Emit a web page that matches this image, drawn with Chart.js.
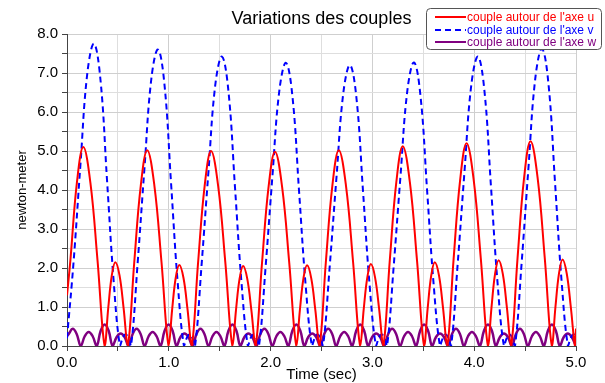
<!DOCTYPE html>
<html>
<head>
<meta charset="utf-8">
<script src="https://cdn.jsdelivr.net/npm/chart.js@4.4.1/dist/chart.umd.min.js"></script>
<style>
  html, body { margin: 0; padding: 0; background: #fff; }
  canvas { display: block; }
</style>
</head>
<body>
<canvas id="couplesChart" width="605" height="383"></canvas>
<script>
const chartTitle = "Variations des couples";
const xAxisTitle = "Time (sec)";
const yAxisTitle = "newton-meter";
const seriesLabels = ["couple autour de l'axe u", "couple autour de l'axe v", "couple autour de l'axe w"];

// couple u (red)
const redTime = [0, 0.033, 0.097, 0.16, 0.23, 0.30, 0.37, 0.405, 0.44, 0.475, 0.516, 0.556, 0.597,
  0.661, 0.725, 0.788, 0.858, 0.928, 0.998, 1.033, 1.068, 1.103, 1.144, 1.184, 1.225,
  1.288, 1.352, 1.415, 1.485, 1.555, 1.625, 1.66, 1.695, 1.73, 1.771, 1.811, 1.852,
  1.916, 1.98, 2.043, 2.113, 2.183, 2.253, 2.288, 2.323, 2.358, 2.399, 2.439, 2.48,
  2.543, 2.607, 2.67, 2.74, 2.81, 2.88, 2.915, 2.95, 2.985, 3.026, 3.066, 3.107,
  3.171, 3.235, 3.298, 3.368, 3.438, 3.508, 3.543, 3.578, 3.613, 3.654, 3.694, 3.735,
  3.798, 3.862, 3.925, 3.995, 4.065, 4.135, 4.17, 4.205, 4.24, 4.281, 4.321, 4.362,
  4.426, 4.49, 4.553, 4.623, 4.693, 4.763, 4.798, 4.833, 4.868, 4.909, 4.949, 4.99, 5.0];
const redValues = [1.3, 2.19, 4.18, 5.1, 4.18, 2.19, 0, 0.97, 1.81, 2.15, 1.81, 0.97, 0,
  2.16, 4.12, 5.02, 4.12, 2.16, 0, 0.94, 1.75, 2.08, 1.75, 0.94, 0,
  2.15, 4.1, 5.0, 4.1, 2.15, 0, 0.92, 1.72, 2.05, 1.72, 0.92, 0,
  2.14, 4.08, 4.98, 4.08, 2.14, 0, 0.93, 1.74, 2.07, 1.74, 0.93, 0,
  2.16, 4.12, 5.02, 4.12, 2.16, 0, 0.95, 1.76, 2.1, 1.76, 0.95, 0,
  2.2, 4.2, 5.12, 4.2, 2.2, 0, 0.97, 1.81, 2.15, 1.81, 0.97, 0,
  2.24, 4.26, 5.2, 4.26, 2.24, 0, 0.99, 1.85, 2.2, 1.85, 0.99, 0,
  2.26, 4.31, 5.25, 4.31, 2.26, 0, 1.0, 1.86, 2.22, 1.86, 1.0, 0, 0.45];

// couple v (blue, dashed)
const blueTime = [0, 0.065, 0.132, 0.199, 0.265, 0.329, 0.393, 0.457, 0.52, 0.55, 0.575, 0.6, 0.629,
  0.694, 0.761, 0.828, 0.894, 0.958, 1.022, 1.086, 1.149, 1.179, 1.204, 1.229, 1.258,
  1.322, 1.389, 1.456, 1.522, 1.586, 1.65, 1.714, 1.777, 1.807, 1.832, 1.857, 1.886,
  1.951, 2.018, 2.085, 2.151, 2.215, 2.279, 2.343, 2.406, 2.436, 2.461, 2.486, 2.515,
  2.58, 2.647, 2.714, 2.78, 2.844, 2.908, 2.972, 3.035, 3.065, 3.09, 3.115, 3.144,
  3.209, 3.276, 3.343, 3.409, 3.473, 3.537, 3.601, 3.664, 3.694, 3.719, 3.744, 3.773,
  3.837, 3.904, 3.971, 4.037, 4.101, 4.165, 4.229, 4.292, 4.322, 4.347, 4.372, 4.401,
  4.466, 4.533, 4.6, 4.666, 4.73, 4.794, 4.858, 4.921, 4.951, 4.976, 5.0];
const blueValues = [0.2, 2.17, 4.65, 6.98, 7.75, 6.82, 4.26, 1.71, 0, 0.22, 0.3, 0.22, 0,
  2.13, 4.56, 6.84, 7.6, 6.69, 4.18, 1.67, 0, 0.22, 0.3, 0.22, 0,
  2.08, 4.45, 6.68, 7.42, 6.53, 4.08, 1.63, 0, 0.22, 0.3, 0.22, 0,
  2.03, 4.36, 6.53, 7.26, 6.39, 3.99, 1.6, 0, 0.22, 0.3, 0.22, 0,
  2.02, 4.32, 6.48, 7.2, 6.34, 3.96, 1.58, 0, 0.22, 0.3, 0.22, 0,
  2.04, 4.36, 6.54, 7.27, 6.4, 4.0, 1.6, 0, 0.22, 0.3, 0.22, 0,
  2.08, 4.45, 6.68, 7.42, 6.53, 4.08, 1.63, 0, 0.22, 0.3, 0.22, 0,
  2.13, 4.57, 6.86, 7.62, 6.71, 4.19, 1.68, 0, 0.22, 0.3, 0.2];

// couple w (purple)
const purpleTime = [0, 0.017, 0.056, 0.095, 0.135,
  0.174, 0.213, 0.252, 0.292, 0.331, 0.37, 0.409, 0.448,
  0.488, 0.527, 0.566, 0.605, 0.645, 0.684, 0.723, 0.762,
  0.802, 0.841, 0.88, 0.919, 0.959, 0.998, 1.037, 1.076,
  1.115, 1.154, 1.193, 1.233, 1.272, 1.311, 1.35, 1.39,
  1.429, 1.468, 1.507, 1.546, 1.586, 1.625, 1.664, 1.703,
  1.743, 1.782, 1.821, 1.86, 1.9, 1.939, 1.978, 2.017,
  2.057, 2.096, 2.135, 2.174, 2.214, 2.253, 2.292, 2.331,
  2.37, 2.409, 2.448, 2.488, 2.527, 2.566, 2.605, 2.644,
  2.684, 2.723, 2.762, 2.801, 2.841, 2.88, 2.919, 2.958,
  2.998, 3.037, 3.076, 3.115, 3.155, 3.194, 3.233, 3.272,
  3.311, 3.35, 3.389, 3.429, 3.469, 3.508, 3.547, 3.586,
  3.625, 3.664, 3.703, 3.743, 3.782, 3.821, 3.86, 3.899,
  3.939, 3.978, 4.017, 4.056, 4.096, 4.135, 4.174, 4.213,
  4.253, 4.292, 4.331, 4.37, 4.41, 4.449, 4.488, 4.527,
  4.567, 4.606, 4.645, 4.684, 4.724, 4.763, 4.802, 4.841,
  4.88, 4.919, 4.958, 4.998];
const purpleValues = [0.25, 0.31, 0.44, 0.31, 0,
  0.25, 0.36, 0.25, 0, 0.39, 0.55, 0.39, 0,
  0.23, 0.32, 0.23, 0, 0.31, 0.44, 0.31, 0,
  0.25, 0.36, 0.25, 0, 0.39, 0.55, 0.39, 0,
  0.23, 0.32, 0.23, 0, 0.31, 0.44, 0.31, 0,
  0.25, 0.36, 0.25, 0, 0.39, 0.55, 0.39, 0,
  0.23, 0.32, 0.23, 0, 0.31, 0.44, 0.31, 0,
  0.25, 0.36, 0.25, 0, 0.39, 0.55, 0.39, 0,
  0.23, 0.32, 0.23, 0, 0.31, 0.44, 0.31, 0,
  0.25, 0.36, 0.25, 0, 0.39, 0.55, 0.39, 0,
  0.23, 0.32, 0.23, 0, 0.31, 0.44, 0.31, 0,
  0.25, 0.36, 0.25, 0, 0.39, 0.55, 0.39, 0,
  0.23, 0.32, 0.23, 0, 0.31, 0.44, 0.31, 0,
  0.25, 0.36, 0.25, 0, 0.39, 0.55, 0.39, 0,
  0.23, 0.32, 0.23, 0, 0.31, 0.44, 0.31, 0,
  0.25, 0.36, 0.25, 0, 0.39, 0.55, 0.39, 0,
  0.23, 0.32, 0.23, 0];

const colors = ["#ff0000", "#0000ff", "#800080"];
const FONT = "'Liberation Sans', Arial, sans-serif";

function toPoints(times, values) {
  return times.map((t, i) => ({ x: t, y: values[i] }));
}

function tickLabel(v) {
  return Number.isInteger(v) ? v.toFixed(1) : "";
}

// title, axis titles and the boxed legend drawn straight on the canvas
const decorPlugin = {
  id: "decor",
  beforeDraw(chart) {
    const c = chart.ctx;
    c.save();
    c.fillStyle = "#fff";
    c.fillRect(0, 0, chart.width, chart.height);
    c.restore();
  },
  afterDraw(chart) {
    const c = chart.ctx;
    const area = chart.chartArea;
    const cx = (area.left + area.right) / 2;
    c.save();
    c.fillStyle = "#000";
    c.textAlign = "center";
    c.textBaseline = "middle";
    c.font = "18px " + FONT;
    c.fillText(chartTitle, cx, 19);
    c.font = "15px " + FONT;
    c.fillText(xAxisTitle, cx, 375);
    c.translate(22, (area.top + area.bottom) / 2);
    c.rotate(-Math.PI / 2);
    c.font = "13px " + FONT;
    c.fillText(yAxisTitle, 0, 0);
    c.restore();

    // legend box
    c.save();
    c.beginPath();
    c.roundRect(426.5, 8.5, 175, 41, 4);
    c.fillStyle = "#fff";
    c.fill();
    c.strokeStyle = "#555";
    c.lineWidth = 1;
    c.stroke();
    c.font = "12px " + FONT;
    c.textAlign = "left";
    c.textBaseline = "middle";
    const rows = [17, 30, 42];
    chart.data.datasets.forEach((ds, i) => {
      c.beginPath();
      c.setLineDash(ds.borderDash || []);
      c.strokeStyle = ds.borderColor;
      c.lineWidth = 2;
      c.moveTo(435, rows[i]);
      c.lineTo(466, rows[i]);
      c.stroke();
      c.setLineDash([]);
      c.fillStyle = ds.borderColor;
      c.fillText(ds.label, 467, rows[i] + 0.5);
    });
    c.restore();
  }
};

const gridColor = (ctx) => (ctx.tick && Number.isInteger(ctx.tick.value) ? "#cfcfcf" : "#dedede");

const ctx = document.getElementById("couplesChart").getContext("2d");
new Chart(ctx, {
  type: "line",
  data: {
    datasets: [
      {
        label: seriesLabels[0],
        data: toPoints(redTime, redValues),
        borderColor: colors[0],
        borderWidth: 2,
        pointRadius: 0,
        tension: 0.4,
      },
      {
        label: seriesLabels[1],
        data: toPoints(blueTime, blueValues),
        borderColor: colors[1],
        borderWidth: 2,
        borderDash: [6, 4],
        pointRadius: 0,
        tension: 0.4,
      },
      {
        label: seriesLabels[2],
        data: toPoints(purpleTime, purpleValues),
        borderColor: colors[2],
        borderWidth: 2.5,
        pointRadius: 0,
        tension: 0.4,
      },
    ],
  },
  options: {
    responsive: false,
    animation: false,
    events: [],
    layout: { padding: { top: 34, right: 29, left: 0, bottom: 0 } },
    plugins: {
      legend: { display: false },
      title: { display: false },
      tooltip: { enabled: false },
    },
    scales: {
      x: {
        type: "linear",
        min: 0,
        max: 5,
        afterFit: (s) => { s.height = 37; },
        ticks: {
          stepSize: 0.5,
          autoSkip: false,
          maxRotation: 0,
          padding: 3,
          color: "#000",
          font: { family: FONT, size: 15 },
          callback: tickLabel,
        },
        grid: { color: gridColor, tickColor: "#444", tickLength: 5 },
        border: { color: "#444", width: 1 },
      },
      y: {
        min: 0,
        max: 8,
        afterFit: (s) => { s.width = 67; },
        ticks: {
          stepSize: 0.5,
          autoSkip: false,
          padding: 4,
          color: "#000",
          font: { family: FONT, size: 15 },
          callback: tickLabel,
        },
        grid: { color: gridColor, tickColor: "#444", tickLength: 5 },
        border: { color: "#444", width: 1 },
      },
    },
  },
  plugins: [decorPlugin],
});
</script>
</body>
</html>
